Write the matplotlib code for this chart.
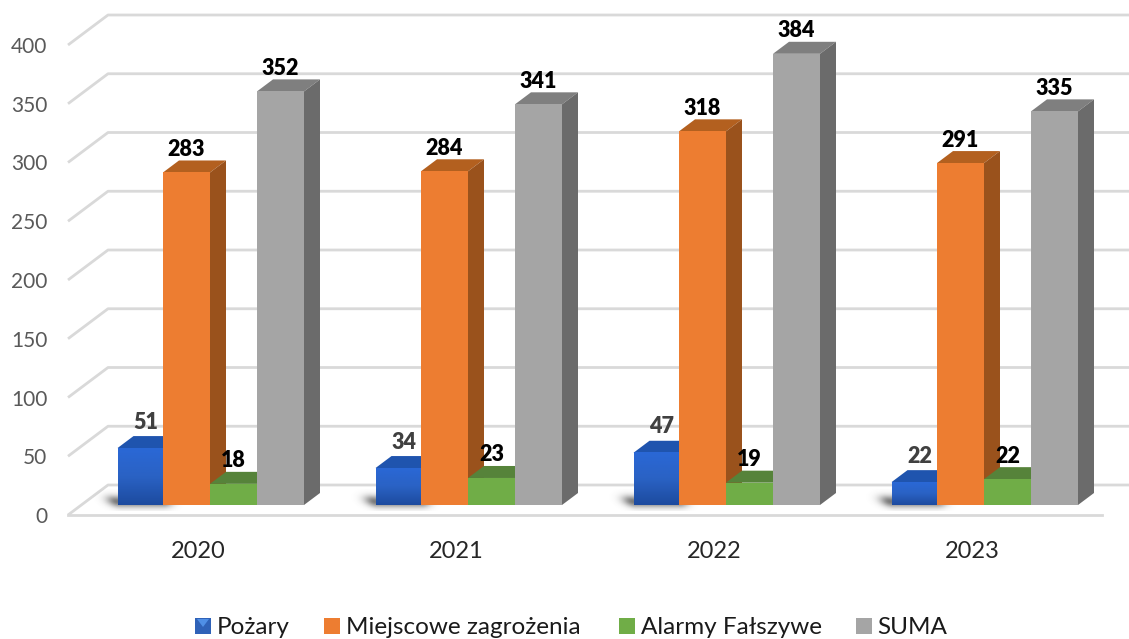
import numpy as np
import matplotlib
matplotlib.use("Agg")
import matplotlib.pyplot as plt
from matplotlib.patches import Polygon, Rectangle

years = ["2020", "2021", "2022", "2023"]
pozary = [51, 34, 47, 22]
miejscowe = [283, 284, 318, 291]
alarmy = [18, 23, 19, 22]
suma = [352, 341, 384, 335]
y_ticks = [0, 50, 100, 150, 200, 250, 300, 350, 400]
names = ["Pożary", "Miejscowe zagrożenia", "Alarmy Fałszywe", "SUMA"]

plt.rcParams["font.family"] = ["Lato", "DejaVu Sans"]
W, H = 1129, 639
fig = plt.figure(figsize=(W / 100, H / 100), dpi=100)
ax = fig.add_axes([0, 0, 1, 1])
ax.axis("off")

GROUP_PX = 258.0
PX_V = 1.175            # pixels per value unit
X0, Y0 = 210.0, 505.0   # pixel of first group centre / bar base
ux = 1 / GROUP_PX
uy = 1 / PX_V
xlim = (-X0 * ux, (W - X0) * ux)
ylim = ((Y0 - H) * uy, Y0 * uy)
X = lambda px: (px - X0) * ux

# gridlines (walls + floor)
GRID = "#d9d9d9"
for v in y_ticks:
    ax.plot([X(68), X(108), X(1129)],
            [v - 10 * uy, v + 20 * uy, v + 20 * uy],
            color=GRID, lw=2, zorder=1, solid_capstyle="butt")
ax.plot([X(68), X(1102)], [-10 * uy, -10 * uy], color=GRID, lw=2, zorder=1)

colors = [
    ("#2f62b8", "#1f54ae", "#1c4a9c"),
    ("#ed7d31", "#b3601f", "#9a521c"),
    ("#70ad47", "#56833a", "#4c7332"),
    ("#a5a5a5", "#7f7f7f", "#6b6b6b"),
]
data = [pozary, miejscowe, alarmy, suma]
BW = 47 * ux
BEVEL = 3 * uy          # the bevelled first series sits slightly lower
INSET = 1.5 * ux
DX, DY = 16 * ux, 12 * uy
centers = np.arange(len(years), dtype=float)
offsets = (np.arange(4) - 1.5) * BW
grad = np.linspace(0, 1, 64).reshape(-1, 1)
blue_map = matplotlib.colors.LinearSegmentedColormap.from_list(
    "b", ["#2a68d6", "#2a62c4", "#1d4b9f"])

# soft floor shadow behind the first series
sx = np.linspace(-26, 72, 196)
sy = np.linspace(-6, 16, 66)
gx, gy = np.meshgrid(sx, sy)
left = np.clip(-gx - (gy - 2) * 0.6, 0, None)
alpha = np.exp(-(left / 10.0) ** 2) * np.exp(-((gy - 3.5) / 6.0) ** 2) * 0.75
alpha[gx > 45] *= np.exp(-((gx[gx > 45] - 45) / 10.0) ** 2)
shadow = np.zeros(gx.shape + (4,))
shadow[..., :3] = 0.3
shadow[..., 3] = alpha

for i, (name, vals, (front, top, side)) in enumerate(zip(names, data, colors)):
    xs = centers + offsets[i]
    z = 3 + i * 2
    if i == 0:
        hs = [v - BEVEL for v in vals]
        bars = ax.bar(xs + INSET / 2, hs, width=BW - INSET, color=front,
                      label=name, zorder=z)
    else:
        hs = list(vals)
        bars = ax.bar(xs, hs, width=BW, color=front, label=name, zorder=z)
    for x, v, h in zip(xs, vals, hs):
        l, r = x - BW / 2, x + BW / 2
        if i == 0:
            l += INSET
            ax.imshow(shadow, aspect="auto", interpolation="bilinear",
                      extent=(l - 26 * ux, l + 72 * ux, -6 * uy, 16 * uy),
                      zorder=2, origin="lower")
        ax.add_patch(Polygon([(l, h), (r, h), (r + DX, h + DY), (l + DX, h + DY)],
                             fc=top, ec="none", zorder=z - 0.5))
        ax.add_patch(Polygon([(r, 0), (r + DX, DY), (r + DX, h + DY), (r, h)],
                             fc=side, ec="none", zorder=z - 0.5))
        if i == 0:
            ax.imshow(grad, cmap=blue_map, aspect="auto",
                      extent=(l, r, 0, h), zorder=z + 0.2)
        color = "#404040" if i == 0 else "black"
        shift = 6 if i == 0 else 0
        ax.annotate(str(v), (x, v), xytext=(shift, 23), textcoords="offset pixels",
                    ha="center", va="center", fontsize=15.5, fontweight="heavy",
                    color=color, zorder=20)

# axis labels
for v in y_ticks:
    ax.text(X(47.5), v - 12 * uy, str(v), ha="right", va="center",
            fontsize=15, color="#595959")
for c, yr in zip(centers, years):
    ax.text(c - 11.5 * ux, -46 * uy, yr, ha="center", va="center",
            fontsize=17, color="#262626")

ax.set_xlim(xlim)
ax.set_ylim(ylim)

# legend
marker_px = [195, 324, 619, 856]
text_px = [217, 346, 641, 877]
T = fig.transFigure
for name, mx, tx, (front, _, _) in zip(names, marker_px, text_px, colors):
    fig.add_artist(Rectangle((mx / W, 1 - 634 / H), 16 / W, 16 / H, transform=T,
                             fc=front, ec="none"))
    fig.text(tx / W, 1 - 627 / H, name, ha="left", va="center",
             fontsize=17.5, color="#1a1a1a")
fig.add_artist(Polygon([(197 / W, 1 - 619 / H), (209 / W, 1 - 619 / H),
                        (203 / W, 1 - 627 / H)], transform=T,
                       fc="#4f8fe6", ec="none"))

fig.savefig("out.png", dpi=100)
